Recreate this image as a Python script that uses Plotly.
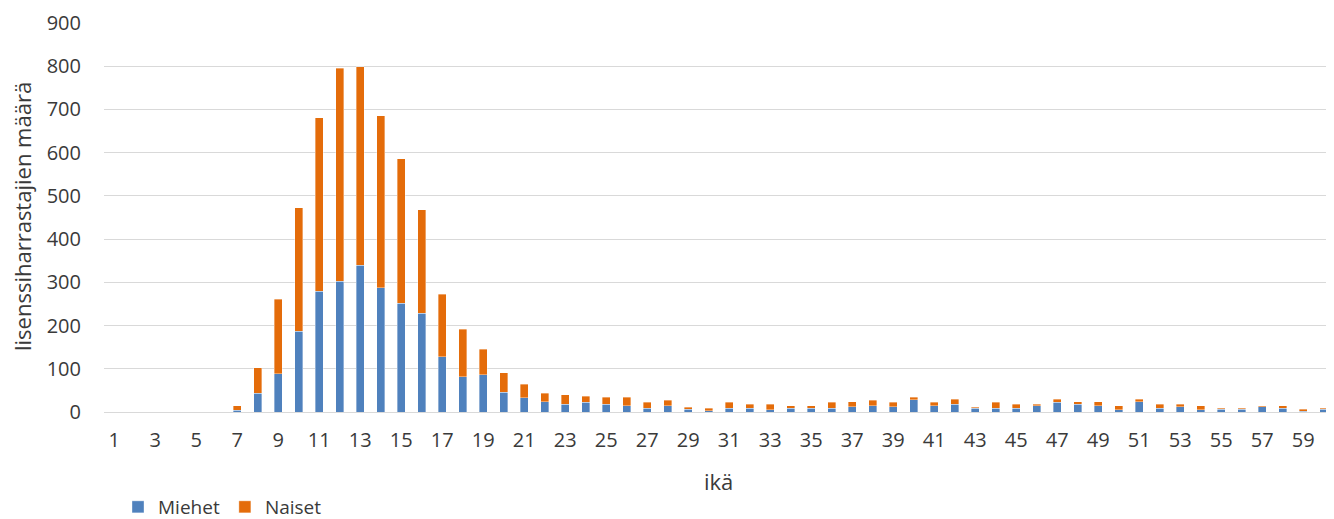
import plotly.graph_objects as go

ages = list(range(1, 61))
miehet = [0, 0, 0, 0, 0, 0, 4, 43, 89, 187, 279, 302, 339, 288, 252, 229, 128, 82, 86, 46,
          33, 24, 18, 22, 18, 14, 9, 14, 6, 3,
          9, 9, 5, 9, 9, 9, 12, 14, 12, 28,
          14, 18, 9, 9, 9, 15, 22, 18, 14, 5,
          24, 9, 12, 5, 6, 6, 12, 9, 2, 6]
totals = [0, 0, 0, 0, 0, 0, 15, 102, 261, 473, 681, 795, 799, 686, 586, 468, 272, 192, 145, 91,
          64, 43, 40, 36, 34, 34, 22, 27, 11, 9,
          22, 18, 18, 14, 14, 22, 24, 27, 22, 34,
          22, 30, 11, 22, 18, 18, 30, 24, 24, 14,
          30, 18, 18, 14, 9, 9, 14, 14, 6, 9]
naiset = [t - m for t, m in zip(totals, miehet)]
tick_labels = [str(a) for a in range(1, 61, 2)]

font_family = "Open Sans, Noto Sans, sans-serif"
txt = "#3a3a3a"

# page has an 8px body margin; figure coords = page coords - 8
W, H = 1334, 519
L, R, T, B = 96, 10, 15, 115
pw = W - L - R
ph = H - T - B
bottom_fig = T + ph

fig = go.Figure()
fig.add_trace(go.Bar(x=ages, y=miehet, name="Miehet",
                     marker=dict(color="#4F81BD", line=dict(color="rgba(255,255,255,0.6)", width=0.6))))
fig.add_trace(go.Bar(x=ages, y=naiset, name="Naiset",
                     marker=dict(color="#E46C0A", line=dict(color="rgba(255,255,255,0.6)", width=0.6))))

fig.update_layout(
    barmode="stack",
    bargap=0.6,
    width=W, height=H,
    margin=dict(l=L, r=R, t=T, b=B, autoexpand=False),
    plot_bgcolor="white", paper_bgcolor="white",
    font=dict(family=font_family, size=20, color=txt),
    legend=dict(orientation="h", x=(110 - L) / pw, xanchor="left",
                y=(bottom_fig - 499) / ph, yanchor="middle",
                font=dict(size=19, color=txt), traceorder="normal", itemwidth=30),
    xaxis=dict(range=[0.5, 60.4], tickmode="array", tickvals=list(range(1, 61, 2)),
               ticktext=tick_labels, showgrid=False, showline=True, linecolor="#d9d9d9",
               linewidth=1, ticks="", tickfont=dict(size=20, color=txt), automargin=False,
               ticklabelstandoff=10),
    yaxis=dict(range=[0, 900], dtick=100, showgrid=True, gridcolor="#d9d9d9", gridwidth=1,
               zeroline=False, showline=False, ticks="", tickfont=dict(size=20, color=txt),
               ticklabelstandoff=22, automargin=False),
    annotations=[
        dict(text="ikä", xref="paper", yref="paper", x=0.5, y=(bottom_fig - 473) / ph,
             xanchor="center", yanchor="middle", showarrow=False,
             font=dict(size=22, color=txt)),
        dict(text="lisenssiharrastajien määrä", xref="paper", yref="paper",
             x=(14 - L) / pw, y=(bottom_fig - 209) / ph, xanchor="center", yanchor="middle",
             textangle=-90, showarrow=False, font=dict(size=22, color=txt)),
    ],
)

fig.write_html("out.html")
